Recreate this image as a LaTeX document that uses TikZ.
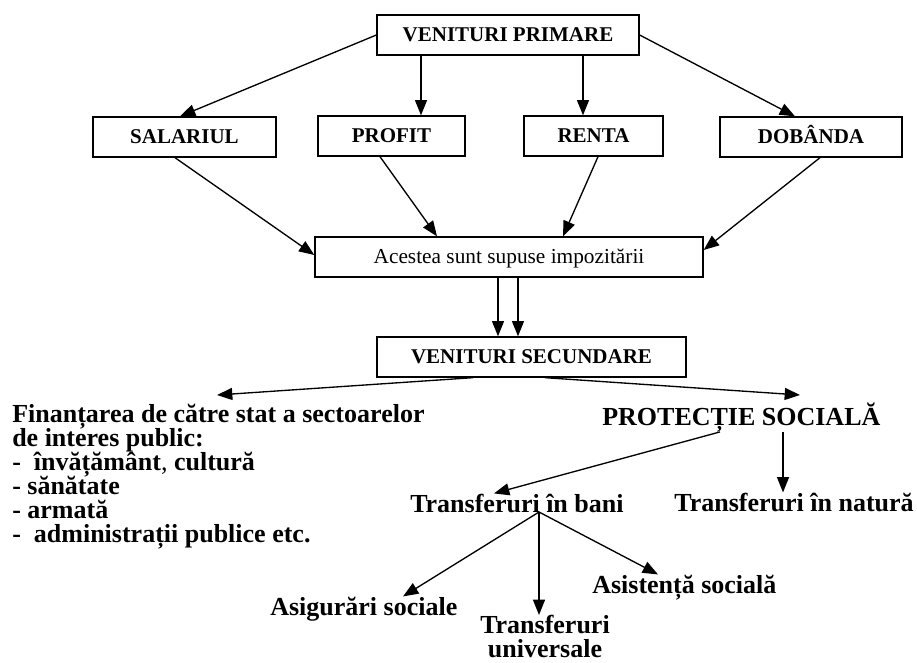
\documentclass[tikz,border=0pt]{standalone}
\usepackage{fontspec}
\setmainfont{Liberation Serif}
\usetikzlibrary{arrows.meta}
\newcommand\tightlines{\lineskiplimit=-30pt\relax\lineskip=0pt\relax}
\begin{document}
\begin{tikzpicture}[x=0.75pt,y=-0.75pt,
  box/.style={draw, line width=1pt, minimum height=30pt, inner sep=0pt, text height=10.4pt, text depth=0pt, font=\fontsize{15.75}{18}\selectfont\bfseries},
  plainbox/.style={box, font=\fontsize{16}{18}\selectfont},
  arr/.style={line width=1pt, -{Triangle[length=11.5pt,width=9pt]}},
  lbl/.style={inner sep=0pt, font=\fontsize{19.5}{18}\selectfont\bfseries}]
\useasboundingbox (0,0) rectangle (917,662);
% boxes
\node[box, minimum width=196.5pt] (vp) at (508,35) {VENITURI PRIMARE};
\node[box, minimum width=137.25pt] (sal) at (184.5,137) {SALARIUL};
\node[box, minimum width=110.25pt] (prof) at (391.5,136) {PROFIT};
\node[box, minimum width=104.25pt] (rent) at (593.5,136) {RENTA};
\node[box, minimum width=136.5pt] (dob) at (811,137) {DOBÂNDA};
\node[plainbox, minimum width=291pt] (ac) at (509,257) {Acestea sunt supuse impozitării};
\node[box, minimum width=231.75pt] (vs) at (531.5,357) {VENITURI SECUNDARE};
% texts
\node[lbl, anchor=north west, align=left,
  font=\fontsize{19.5}{18}\selectfont\bfseries\tightlines] (fin) at (12,404)
  {Finanțarea de către stat a sectoarelor\\de interes public:\\-~ învățământ{\mdseries,} cultură\\- sănătate\\- armată\\-~ administrații publice etc.};
\node[lbl, anchor=base west] (ps) at (602,425) {PROTECȚIE SOCIALĂ};
\node[lbl, anchor=base west] (tb) at (410,512) {Transferuri în bani};
\node[lbl, anchor=base east] (tn) at (914,511) {Transferuri în natură};
\node[lbl, anchor=base west] (asg) at (270,615) {Asigurări sociale};
\node[lbl, anchor=north, align=center,
  font=\fontsize{19.5}{18}\selectfont\bfseries\tightlines] (tu) at (545,615) {Transferuri\\universale};
\node[lbl, anchor=base west] (ast) at (592,593) {Asistență socială};
% free arrow ends
\coordinate (fa) at (217,395);
\coordinate (pa) at (800,395);
\coordinate (sp) at (539,512);
% arrows
\draw[arr] (vp.west) -- (sal.north -| 180,0);
\draw[arr] (vp.south -| 421,0) -- (prof.north -| 421,0);
\draw[arr] (vp.south -| 583,0) -- (rent.north -| 583,0);
\draw[arr] (vp.east) -- (dob.north -| 795,0);
\draw[arr] (sal.south -| 175,0) -- (ac.west |- 0,255);
\draw[arr] (prof.south -| 380,0) -- (ac.north -| 437,0);
\draw[arr] (rent.south -| 598,0) -- (ac.north -| 563,0);
\draw[arr] (dob.south -| 820,0) -- (ac.east |- 0,250);
\draw[arr] (ac.south -| 498,0) -- (vs.north -| 498,0);
\draw[arr] (ac.south -| 518,0) -- (vs.north -| 518,0);
\draw[arr] (vs.south -| 473,0) -- (fa);
\draw[arr] (vs.south -| 545,0) -- (pa);
\draw[arr] (ps.south -| 720,0) -- (tb.north -| 494,0);
\draw[arr] (ps.south -| 783,0) -- (tn.north -| 783,0);
\draw[arr] (sp) -- (asg.north -| 403,0);
\draw[arr] (sp) -- (tu.north -| 539,0);
\draw[arr] (sp) -- (ast.north -| 658,0);
\end{tikzpicture}
\end{document}
